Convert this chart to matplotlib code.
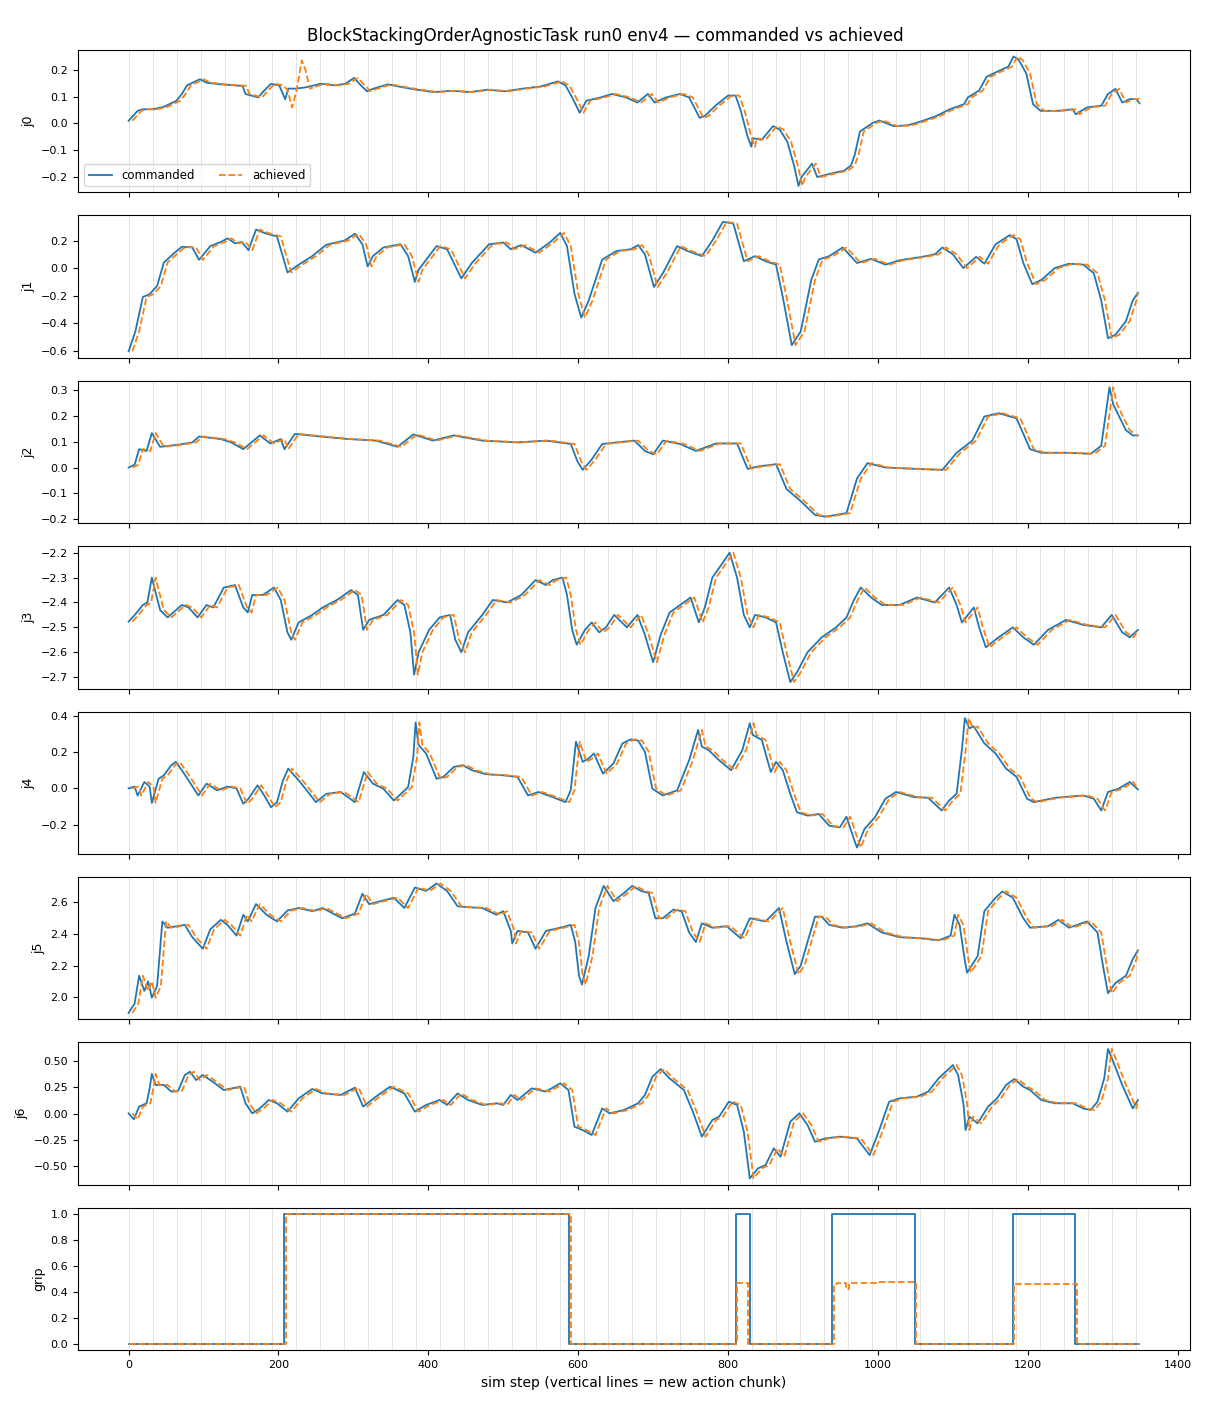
import numpy as np
import matplotlib
matplotlib.use("Agg")
import matplotlib.pyplot as plt

# commanded joint targets as (sim step, value) keypoints
j0_t = [0, 12, 19, 33, 47, 64, 71, 78, 95, 104, 123, 142, 152, 156, 173, 180, 190, 201, 209, 213,
        223, 237, 256, 275, 289, 301, 308, 318, 327, 346, 360, 384, 408, 431, 455, 479, 502, 526,
        550, 573, 583, 592, 602, 611, 630, 645, 664, 679, 693, 702, 717, 736, 748, 762, 769, 783,
        800, 810, 817, 826, 831, 833, 845, 860, 869, 879, 888, 894, 898, 912, 919, 936, 955, 964,
        969, 976, 993, 1002, 1021, 1040, 1059, 1078, 1096, 1115, 1120, 1135, 1145, 1159, 1174,
        1181, 1188, 1198, 1207, 1217, 1241, 1260, 1264, 1279, 1298, 1307, 1317, 1326, 1336, 1345, 1349]
j0_v = [0.01, 0.047, 0.053, 0.053, 0.062, 0.085, 0.11, 0.142, 0.165, 0.152, 0.146, 0.142, 0.14, 0.11,
        0.097, 0.12, 0.148, 0.142, 0.09, 0.13, 0.13, 0.135, 0.148, 0.142, 0.148, 0.17, 0.148, 0.12,
        0.13, 0.146, 0.138, 0.126, 0.117, 0.122, 0.117, 0.126, 0.12, 0.13, 0.138, 0.157, 0.142, 0.097,
        0.04, 0.085, 0.097, 0.11, 0.097, 0.078, 0.11, 0.078, 0.097, 0.11, 0.097, 0.021, 0.028, 0.066,
        0.104, 0.104, 0.047, -0.049, -0.087, -0.055, -0.061, -0.01, -0.023, -0.068, -0.157, -0.233,
        -0.2, -0.15, -0.2, -0.188, -0.176, -0.157, -0.118, -0.03, 0.002, 0.011, -0.01, -0.007, 0.009,
        0.028, 0.053, 0.072, 0.097, 0.123, 0.174, 0.193, 0.212, 0.25, 0.237, 0.186, 0.072, 0.047,
        0.047, 0.053, 0.034, 0.06, 0.066, 0.11, 0.129, 0.078, 0.091, 0.091, 0.075]
# achieved j0 overshoot near step 220 (not present in the command)
j0_bump_t = [212, 218, 224, 231, 236, 242]
j0_bump_v = [0.125, 0.06, 0.12, 0.235, 0.2, 0.13]

j1_t = [0, 9, 19, 28, 38, 47, 61, 71, 85, 94, 109, 123, 132, 142, 151, 160, 170, 184, 198, 212, 227,
        245, 264, 288, 302, 312, 319, 326, 340, 363, 373, 382, 387, 411, 425, 434, 444, 458, 481, 500,
        510, 524, 543, 562, 576, 585, 595, 604, 614, 632, 651, 670, 680, 689, 701, 713, 732, 746, 765,
        779, 793, 807, 821, 836, 850, 864, 873, 885, 897, 911, 921, 935, 953, 972, 991, 1010, 1029,
        1057, 1076, 1086, 1100, 1114, 1131, 1142, 1157, 1176, 1185, 1194, 1206, 1218, 1236, 1255,
        1274, 1288, 1298, 1307, 1317, 1331, 1340, 1347]
j1_v = [-0.605, -0.46, -0.21, -0.19, -0.13, 0.04, 0.11, 0.155, 0.15, 0.06, 0.16, 0.19, 0.216, 0.18,
        0.19, 0.13, 0.28, 0.25, 0.23, -0.032, 0.025, 0.087, 0.17, 0.2, 0.25, 0.173, 0.012, 0.087, 0.15,
        0.173, 0.087, -0.1, -0.012, 0.16, 0.137, 0.037, -0.075, 0.037, 0.173, 0.186, 0.137, 0.167, 0.112,
        0.186, 0.256, 0.16, -0.186, -0.36, -0.236, 0.062, 0.124, 0.137, 0.167, 0.1, -0.137, -0.037,
        0.16, 0.124, 0.087, 0.2, 0.336, 0.324, 0.05, 0.087, 0.05, 0.025, -0.21, -0.56, -0.46, -0.087,
        0.062, 0.087, 0.15, 0.037, 0.067, 0.025, 0.057, 0.08, 0.1, 0.15, 0.1, 0.0, 0.082, 0.032, 0.173,
        0.24, 0.21, 0.037, -0.117, -0.087, 0.0, 0.032, 0.025, -0.037, -0.236, -0.51, -0.485, -0.386,
        -0.236, -0.18]

j2_t = [0, 8, 14, 24, 31, 42, 66, 85, 94, 123, 137, 153, 175, 189, 203, 208, 222, 255, 293, 330, 359,
        380, 406, 434, 472, 519, 557, 590, 599, 606, 618, 632, 651, 675, 689, 700, 713, 736, 757, 784,
        812, 826, 840, 864, 878, 897, 916, 930, 958, 972, 986, 1010, 1048, 1086, 1105, 1126, 1142,
        1161, 1185, 1203, 1218, 1255, 1284, 1298, 1309, 1314, 1331, 1340, 1347]
j2_v = [0.0, 0.011, 0.071, 0.064, 0.133, 0.08, 0.088, 0.097, 0.12, 0.11, 0.097, 0.071, 0.124, 0.093,
        0.11, 0.071, 0.13, 0.12, 0.11, 0.104, 0.08, 0.128, 0.104, 0.124, 0.104, 0.097, 0.104, 0.091,
        0.024, -0.009, 0.031, 0.091, 0.097, 0.104, 0.064, 0.051, 0.104, 0.091, 0.064, 0.093, 0.093,
        -0.005, 0.004, 0.013, -0.083, -0.13, -0.183, -0.19, -0.176, -0.043, 0.017, 0.0, -0.005, -0.009,
        0.057, 0.104, 0.197, 0.21, 0.19, 0.071, 0.057, 0.057, 0.053, 0.084, 0.31, 0.244, 0.144, 0.124,
        0.124]

j3_t = [0, 9, 19, 25, 31, 36, 42, 52, 71, 80, 92, 104, 113, 127, 142, 153, 159, 165, 179, 194, 203,
        212, 217, 227, 245, 259, 278, 297, 306, 313, 321, 340, 359, 368, 376, 381, 387, 401, 415, 429,
        436, 444, 453, 472, 486, 505, 524, 543, 557, 566, 579, 585, 592, 598, 609, 618, 628, 637, 648,
        665, 679, 689, 700, 710, 722, 736, 750, 761, 769, 779, 793, 802, 812, 821, 829, 836, 850, 864,
        873, 883, 892, 906, 925, 944, 958, 968, 977, 991, 1005, 1029, 1052, 1076, 1095, 1105, 1112,
        1128, 1135, 1144, 1161, 1180, 1194, 1208, 1227, 1251, 1274, 1298, 1312, 1326, 1336, 1347]
j3_v = [-2.477, -2.447, -2.41, -2.4, -2.3, -2.36, -2.43, -2.46, -2.41, -2.42, -2.46, -2.41, -2.42,
        -2.34, -2.33, -2.42, -2.44, -2.37, -2.37, -2.34, -2.39, -2.52, -2.55, -2.48, -2.45, -2.42,
        -2.39, -2.35, -2.37, -2.51, -2.47, -2.45, -2.39, -2.41, -2.52, -2.69, -2.6, -2.51, -2.46, -2.45,
        -2.55, -2.6, -2.52, -2.45, -2.39, -2.4, -2.37, -2.31, -2.33, -2.31, -2.3, -2.37, -2.51, -2.57,
        -2.51, -2.48, -2.52, -2.5, -2.45, -2.5, -2.45, -2.53, -2.64, -2.53, -2.44, -2.41, -2.38, -2.48,
        -2.42, -2.3, -2.24, -2.2, -2.3, -2.45, -2.5, -2.45, -2.46, -2.48, -2.6, -2.72, -2.68, -2.6,
        -2.54, -2.5, -2.46, -2.39, -2.34, -2.38, -2.41, -2.41, -2.38, -2.4, -2.34, -2.41, -2.48, -2.42,
        -2.5, -2.58, -2.54, -2.5, -2.54, -2.57, -2.51, -2.47, -2.49, -2.5, -2.45, -2.52, -2.54, -2.51]

j4_t = [0, 8, 12, 21, 28, 31, 40, 47, 57, 63, 71, 80, 93, 104, 118, 132, 144, 153, 160, 172, 181,
        190, 198, 206, 213, 227, 236, 250, 264, 283, 302, 314, 326, 340, 354, 373, 380, 383, 387, 397,
        411, 420, 434, 446, 458, 477, 500, 519, 533, 547, 566, 583, 590, 597, 606, 614, 621, 633, 647,
        659, 670, 680, 689, 699, 713, 732, 748, 760, 765, 774, 788, 804, 819, 829, 833, 845, 857, 864,
        873, 883, 892, 906, 921, 935, 949, 958, 968, 972, 982, 996, 1010, 1024, 1048, 1067, 1085, 1095,
        1105, 1112, 1116, 1122, 1128, 1142, 1157, 1171, 1185, 1199, 1208, 1236, 1274, 1288, 1298, 1307,
        1321, 1336, 1347]
j4_v = [0.0, 0.01, -0.04, 0.035, 0.01, -0.08, 0.053, 0.072, 0.128, 0.146, 0.1, 0.044, -0.039, 0.026,
        -0.011, 0.01, 0.0, -0.085, -0.057, 0.017, -0.039, -0.104, -0.076, 0.044, 0.109, 0.044, -0.002,
        -0.076, -0.03, -0.02, -0.076, 0.09, 0.026, -0.002, -0.067, 0.007, 0.174, 0.363, 0.239, 0.192,
        0.053, 0.063, 0.118, 0.128, 0.1, 0.078, 0.072, 0.063, -0.039, -0.02, -0.048, -0.076, -0.011,
        0.257, 0.146, 0.165, 0.192, 0.081, 0.137, 0.248, 0.27, 0.263, 0.202, -0.002, -0.039, -0.011,
        0.155, 0.322, 0.23, 0.211, 0.155, 0.1, 0.211, 0.359, 0.294, 0.267, 0.09, 0.146, 0.1, -0.03,
        -0.132, -0.15, -0.141, -0.206, -0.215, -0.156, -0.28, -0.326, -0.224, -0.159, -0.057, -0.02,
        -0.048, -0.052, -0.122, -0.067, -0.03, 0.211, 0.387, 0.331, 0.341, 0.248, 0.192, 0.109, 0.063,
        -0.057, -0.076, -0.052, -0.039, -0.057, -0.122, -0.02, -0.002, 0.035, -0.006]

j5_t = [0, 8, 14, 21, 26, 31, 38, 45, 52, 75, 85, 99, 109, 123, 132, 144, 153, 159, 170, 184, 198,
        212, 227, 245, 259, 274, 285, 302, 312, 321, 340, 354, 368, 382, 397, 411, 425, 439, 453, 472,
        491, 500, 510, 512, 519, 533, 543, 557, 576, 590, 596, 601, 605, 614, 623, 634, 647, 661, 672,
        684, 694, 703, 713, 727, 738, 748, 757, 765, 779, 798, 817, 829, 850, 868, 878, 889, 897, 906,
        916, 925, 935, 953, 972, 986, 1005, 1029, 1057, 1081, 1097, 1102, 1109, 1116, 1119, 1125, 1133,
        1142, 1157, 1166, 1180, 1194, 1203, 1227, 1241, 1255, 1279, 1293, 1301, 1307, 1317, 1331, 1340,
        1347]
j5_v = [1.9, 1.96, 2.136, 2.04, 2.1, 1.997, 2.07, 2.48, 2.44, 2.458, 2.38, 2.307, 2.43, 2.49, 2.458,
        2.39, 2.522, 2.48, 2.59, 2.522, 2.48, 2.549, 2.565, 2.545, 2.565, 2.527, 2.5, 2.53, 2.655, 2.59,
        2.613, 2.63, 2.565, 2.695, 2.673, 2.72, 2.673, 2.576, 2.57, 2.565, 2.522, 2.545, 2.42, 2.34,
        2.42, 2.41, 2.307, 2.42, 2.44, 2.458, 2.35, 2.136, 2.08, 2.26, 2.565, 2.705, 2.608, 2.66, 2.705,
        2.673, 2.66, 2.5, 2.5, 2.555, 2.545, 2.41, 2.35, 2.468, 2.44, 2.45, 2.373, 2.5, 2.48, 2.565,
        2.35, 2.146, 2.2, 2.35, 2.51, 2.51, 2.458, 2.44, 2.45, 2.468, 2.41, 2.38, 2.373, 2.36, 2.39,
        2.522, 2.458, 2.23, 2.155, 2.2, 2.26, 2.545, 2.63, 2.67, 2.63, 2.5, 2.44, 2.45, 2.49, 2.44,
        2.48, 2.41, 2.18, 2.025, 2.09, 2.136, 2.24, 2.297]

j6_t = [0, 7, 14, 24, 28, 31, 36, 47, 57, 66, 75, 82, 90, 99, 113, 127, 149, 156, 165, 175, 187,
        198, 212, 227, 245, 259, 283, 302, 313, 330, 349, 368, 382, 397, 415, 425, 439, 453, 472, 491,
        500, 510, 519, 538, 557, 576, 587, 595, 606, 618, 632, 642, 661, 680, 689, 699, 710, 722, 741,
        753, 765, 779, 788, 801, 812, 821, 829, 840, 850, 861, 870, 883, 895, 906, 916, 930, 949, 972,
        982, 989, 1001, 1015, 1029, 1052, 1067, 1081, 1093, 1100, 1107, 1114, 1117, 1122, 1133, 1147,
        1159, 1171, 1182, 1194, 1203, 1218, 1236, 1260, 1274, 1284, 1293, 1302, 1307, 1314, 1326, 1340,
        1347]
j6_v = [0.003, -0.054, 0.067, 0.099, 0.24, 0.378, 0.273, 0.273, 0.21, 0.216, 0.368, 0.4, 0.32, 0.368,
        0.3, 0.225, 0.257, 0.099, 0.003, 0.05, 0.13, 0.099, 0.019, 0.146, 0.235, 0.193, 0.178, 0.248,
        0.067, 0.162, 0.257, 0.193, 0.019, 0.083, 0.13, 0.083, 0.193, 0.13, 0.083, 0.099, 0.083, 0.178,
        0.13, 0.241, 0.21, 0.289, 0.225, -0.124, -0.156, -0.203, 0.05, 0.003, 0.035, 0.099, 0.178,
        0.352, 0.425, 0.336, 0.225, 0.019, -0.219, -0.06, -0.028, 0.114, 0.083, -0.171, -0.616, -0.52,
        -0.489, -0.33, -0.41, -0.076, 0.003, -0.108, -0.267, -0.235, -0.219, -0.235, -0.33, -0.394,
        -0.171, 0.114, 0.146, 0.162, 0.21, 0.336, 0.416, 0.463, 0.368, 0.099, -0.156, -0.028, -0.092,
        0.067, 0.146, 0.273, 0.33, 0.257, 0.225, 0.13, 0.099, 0.099, 0.05, 0.035, 0.114, 0.336, 0.616,
        0.495, 0.273, 0.05, 0.13]

# gripper: change points, held until the next one
grip_cmd_t = [0, 208, 588, 810, 829, 939, 1050, 1180, 1263, 1349]
grip_cmd_v = [0.0, 1.0, 0.0, 1.0, 0.0, 1.0, 0.0, 1.0, 0.0, 0.0]
grip_ach_t = [0, 210, 591, 812, 826, 941, 945, 955, 958, 961, 1000, 1051, 1182, 1265, 1349]
grip_ach_v = [0.0, 1.0, 0.0, 0.47, 0.0, 0.46, 0.47, 0.47, 0.42, 0.47, 0.475, 0.0, 0.463, 0.0, 0.0]

ach_lag = 5      # steps the achieved trace trails the command
chunk = 32       # action chunk length
n_steps = 1350

joints = [("j0", j0_t, j0_v), ("j1", j1_t, j1_v), ("j2", j2_t, j2_v), ("j3", j3_t, j3_v),
          ("j4", j4_t, j4_v), ("j5", j5_t, j5_v), ("j6", j6_t, j6_v)]

fig, axes = plt.subplots(8, 1, sharex=True, figsize=(12.1, 14.08), dpi=100)
fig.subplots_adjust(left=0.0645, right=0.9835, top=0.9645, bottom=0.041, hspace=0.162)

for ax in axes:
    for s in range(0, n_steps, chunk):
        ax.axvline(s, color="gray", alpha=0.22, lw=0.7, zorder=0)
    ax.tick_params(labelsize=8)

for ax, (name, t, v) in zip(axes[:7], joints):
    t = np.array(t)
    v = np.array(v)
    at = np.minimum(t + ach_lag, t[-1])
    av = v.copy()
    if name == "j0":
        keep = (at < 208) | (at > 246)
        at = np.concatenate([at[keep], j0_bump_t])
        av = np.concatenate([av[keep], j0_bump_v])
        order = np.argsort(at)
        at, av = at[order], av[order]
    ax.plot(t, v, color="tab:blue", lw=1.3, label="commanded")
    ax.plot(at, av, color="tab:orange", lw=1.3, ls="--", label="achieved")
    ax.set_ylabel(name, fontsize=9)

axes[0].legend(loc="lower left", ncol=2, fontsize=8.5)

ax = axes[7]
ax.plot(grip_cmd_t, grip_cmd_v, color="tab:blue", lw=1.3, drawstyle="steps-post")
ax.plot(grip_ach_t, grip_ach_v, color="tab:orange", lw=1.3, ls="--", drawstyle="steps-post")
ax.set_ylabel("grip", fontsize=9)
ax.set_xlabel("sim step (vertical lines = new action chunk)", fontsize=10)
ax.set_xlim(-67.5, 1416.5)

fig.suptitle("BlockStackingOrderAgnosticTask run0 env4 \u2014 commanded vs achieved", fontsize=12, y=0.981)
fig.savefig("out.png", dpi=100)
